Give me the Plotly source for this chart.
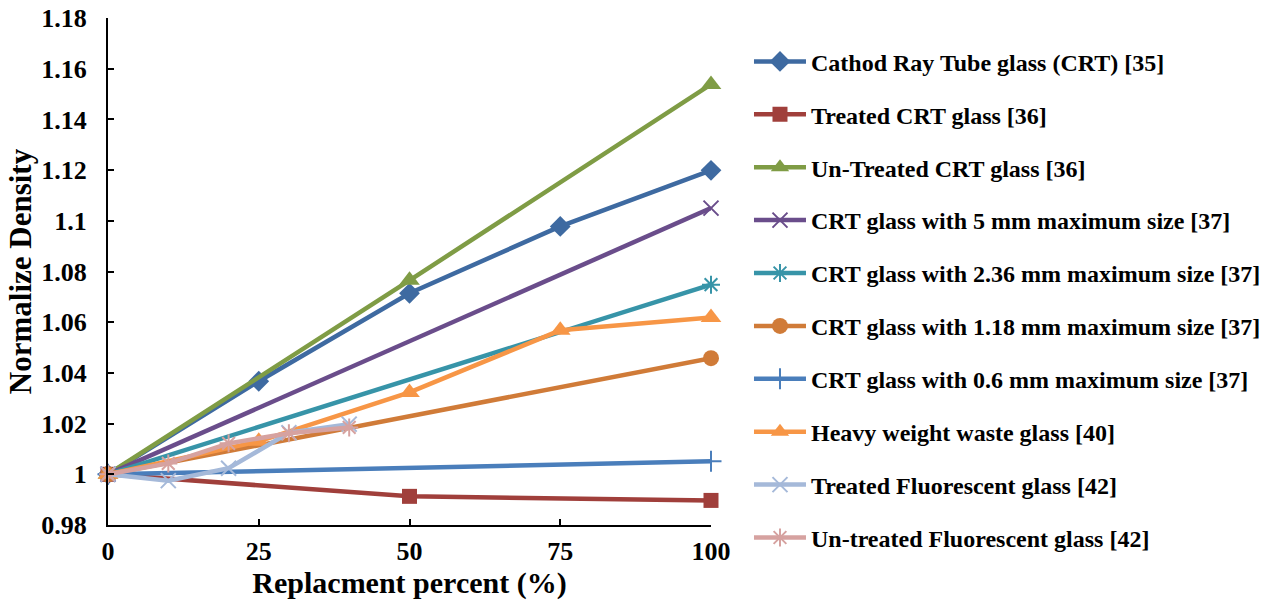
import plotly.graph_objects as go

# Replacement levels (%) and normalized density for each glass type
x_crt35 = [0, 25, 50, 75, 100]
y_crt35 = [1.0, 1.0367, 1.0714, 1.0978, 1.1199]

x_crt36 = [0, 50, 100]
y_treated_crt36 = [1.0, 0.9913, 0.9897]
y_untreated_crt36 = [1.0, 1.0765, 1.1538]

x_crt37 = [0, 100]
y_5mm = [1.0, 1.105]
y_236mm = [1.0, 1.0748]
y_118mm = [1.0, 1.0458]
y_06mm = [1.0, 1.0051]

x_heavy40 = [0, 25, 50, 75, 100]
y_heavy40 = [1.0, 1.013, 1.0323, 1.0568, 1.0619]

x_fluor42 = [0, 10, 20, 30, 40]
y_treated_fluor42 = [1.0, 0.9975, 1.0024, 1.0164, 1.0198]
y_untreated_fluor42 = [1.0, 1.0043, 1.0122, 1.0162, 1.0185]

y_ticks = [0.98, 1.0, 1.02, 1.04, 1.06, 1.08, 1.1, 1.12, 1.14, 1.16, 1.18]
y_tick_text = ["0.98", "1", "1.02", "1.04", "1.06", "1.08", "1.1", "1.12", "1.14", "1.16", "1.18"]
x_ticks = [0, 25, 50, 75, 100]

series = [
    ("Cathod Ray Tube glass (CRT) [35]", x_crt35, y_crt35, "#3E6AA1", "diamond", 16, False),
    ("Treated CRT glass [36]", x_crt36, y_treated_crt36, "#A03F3B", "square", 15, False),
    ("Un-Treated CRT glass [36]", x_crt36, y_untreated_crt36, "#7F9C45", "triangle-up", 18, False),
    ("CRT glass with 5 mm maximum size [37]", x_crt37, y_5mm, "#6A4D8B", "x-thin", 15, True),
    ("CRT glass with 2.36 mm maximum size [37]", x_crt37, y_236mm, "#3794A8", "asterisk", 15, True),
    ("CRT glass with 1.18 mm maximum size [37]", x_crt37, y_118mm, "#D07B38", "circle", 16, False),
    ("CRT glass with 0.6 mm maximum size [37]", x_crt37, y_06mm, "#4A7EBB", "cross-thin", 15, True),
    ("Heavy weight waste glass [40]", x_heavy40, y_heavy40, "#F79646", "triangle-up", 18, False),
    ("Treated Fluorescent glass [42]", x_fluor42, y_treated_fluor42, "#A5B9D9", "x-thin", 15, True),
    ("Un-treated Fluorescent glass [42]", x_fluor42, y_untreated_fluor42, "#D6A2A0", "asterisk", 15, True),
]

fig = go.Figure()
for i, (name, xs, ys, color, symbol, size, thin) in enumerate(series):
    marker = dict(symbol=symbol, size=size, color=color)
    if thin:
        marker["line"] = dict(color=color, width=2)
    fig.add_trace(go.Scatter(
        x=xs, y=ys, name=name, mode="lines+markers",
        line=dict(color=color, width=4.5),
        marker=marker, cliponaxis=False, legendgroup=f"g{i}",
    ))

font_family = "Liberation Serif"
fig.update_layout(
    width=1273, height=602,
    margin=dict(l=108, r=562, t=18, b=77, autoexpand=False),
    paper_bgcolor="white", plot_bgcolor="white",
    font=dict(family=font_family, color="black", size=24),
    showlegend=True,
    legend=dict(
        x=1.063, y=0.958, xanchor="left", yanchor="top",
        font=dict(family=font_family, size=24, color="black", weight="bold"),
        tracegroupgap=18.7, itemwidth=52, maxheight=600,
        bgcolor="rgba(0,0,0,0)",
    ),
    xaxis=dict(
        range=[0, 100], tickvals=x_ticks, ticks="inside", ticklen=6, tickwidth=2,
        tickcolor="black", showline=True, linecolor="black", linewidth=2,
        showgrid=False, zeroline=False, ticklabelstandoff=2,
        tickfont=dict(family=font_family, size=26, weight="bold"),
        title=dict(text="Replacment percent (%)", standoff=0,
                   font=dict(family=font_family, size=30, weight="bold")),
    ),
    yaxis=dict(
        range=[0.98, 1.18], tickvals=y_ticks, ticktext=y_tick_text,
        ticks="inside", ticklen=6, tickwidth=2, tickcolor="black",
        showline=True, linecolor="black", linewidth=2,
        showgrid=False, zeroline=False, ticklabelstandoff=14,
        tickfont=dict(family=font_family, size=26, weight="bold"),
        title=dict(text="Normalize Density", standoff=0,
                   font=dict(family=font_family, size=31, weight="bold")),
    ),
)

fig.write_html("out.html")
